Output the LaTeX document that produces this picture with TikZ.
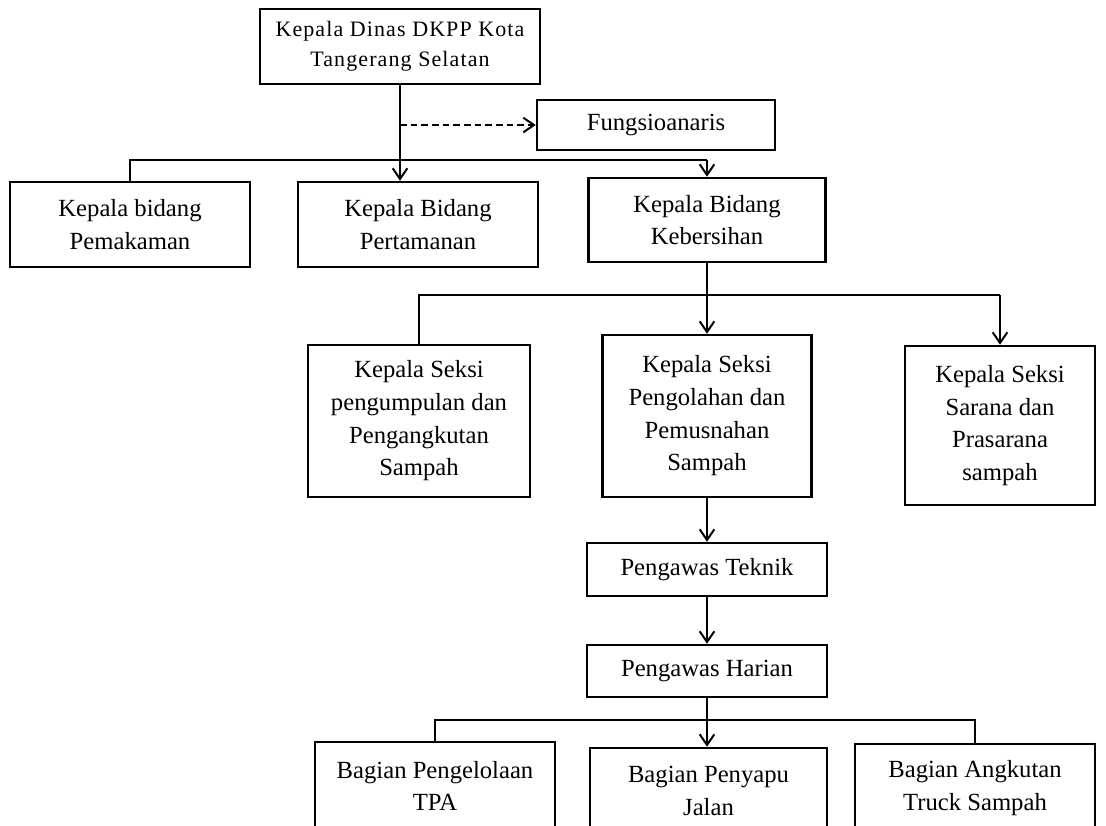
\documentclass[tikz,border=0pt]{standalone}
\usepackage{fontspec}
\setmainfont{Liberation Serif}
\usetikzlibrary{arrows.meta}

\tikzset{
  org/.style={draw, line width=1.9pt, align=center, inner sep=0pt,
    font=\fontsize{18.5}{24.5}\selectfont},
  sz/.style 2 args={minimum width=#1*0.75pt, minimum height=#2*0.75pt},
  link/.style={line width=1.5pt},
  arr/.style={link, -{Straight Barb[length=8pt, width=11pt, line width=1.5pt]}}
}

\begin{document}
\begin{tikzpicture}[x=0.75pt, y=-0.75pt]
    \useasboundingbox (0,0) rectangle (1106,825);
    \clip (0,0) rectangle (1106,825);

    % pimpinan
    \node[org, sz={280}{75}, font=\fontsize{16.5}{22.5}\selectfont\addfontfeatures{LetterSpace=5}] (kadis) at (400,46.5) {Kepala Dinas DKPP Kota\\Tangerang Selatan};
    \node[org, sz={238}{50}] (fung) at (656,125) {Fungsioanaris};

    % bidang
    \node[org, sz={240}{85}] (pemakaman) at (130,224.5) {Kepala bidang\\Pemakaman};
    \node[org, sz={240}{85}] (pertamanan) at (418,224.5) {Kepala Bidang\\Pertamanan};
    \node[org, sz={237}{84}] (kebersihan) at (707,220) {Kepala Bidang\\Kebersihan};

    % seksi
    \node[org, sz={222}{152}] (seksiA) at (419,421) {Kepala Seksi\\pengumpulan dan\\Pengangkutan\\Sampah};
    \node[org, sz={209}{162}] (seksiB) at (707,416) {Kepala Seksi\\Pengolahan dan\\Pemusnahan\\Sampah};
    \node[org, sz={190}{159}] (seksiC) at (1000,425.5) {Kepala Seksi\\Sarana dan\\Prasarana\\sampah};

    % pengawas
    \node[org, sz={240}{53}] (teknik) at (707,569.5) {Pengawas Teknik};
    \node[org, sz={240}{52}] (harian) at (707,671) {Pengawas Harian};

    % bagian
    \node[org, sz={240}{88}] (tpa) at (435,786) {Bagian Pengelolaan\\TPA};
    \node[org, sz={237}{86}] (penyapu) at (708.5,791) {Bagian Penyapu\\Jalan};
    \node[org, sz={240}{88}] (truck) at (975,788) {Bagian Angkutan\\Truck Sampah};

    \coordinate (bus1) at (0,160);
    \coordinate (bus2) at (0,295);
    \coordinate (bus3) at (0,720);

    \draw[arr] (kadis.south) -- (kadis.south |- pertamanan.north);
    \draw[arr, dash pattern=on 5pt off 3pt] (kadis.south |- fung.west) -- (fung.west);
    \draw[link] (pemakaman.north) |- (bus1 -| kebersihan.north);
    \draw[arr] (bus1 -| kebersihan.north) -- (kebersihan.north);

    \draw[arr] (kebersihan.south) -- (kebersihan.south |- seksiB.north);
    \draw[link] (seksiA.north) |- (bus2 -| seksiC.north);
    \draw[arr] (bus2 -| seksiC.north) -- (seksiC.north);

    \draw[arr] (seksiB.south) -- (seksiB.south |- teknik.north);
    \draw[arr] (teknik.south) -- (teknik.south |- harian.north);

    \draw[arr] (harian.south) -- (harian.south |- penyapu.north);
    \draw[link] (tpa.north) |- (bus3 -| truck.north) -- (truck.north);
\end{tikzpicture}
\end{document}
